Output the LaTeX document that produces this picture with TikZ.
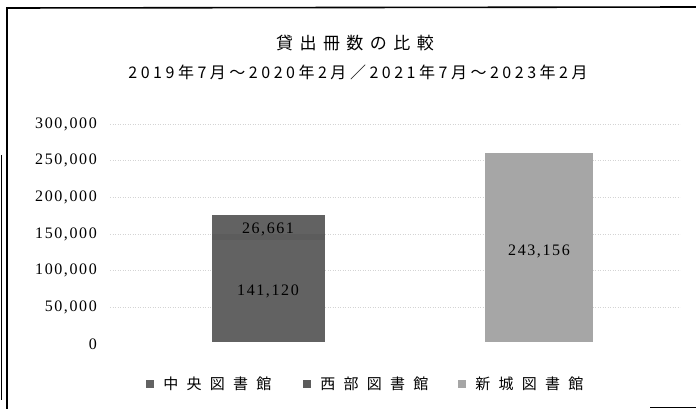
\documentclass[tikz,border=0pt]{standalone}
\usepackage{fontspec}
\usetikzlibrary{positioning}
\setmainfont{Liberation Serif}
\newfontfamily\numfont[LetterSpace=10]{Liberation Serif}
\newfontfamily\titlefont[LetterSpace=38]{Noto Sans CJK JP}
\newfontfamily\subfont[LetterSpace=22]{Noto Sans CJK JP}
\newfontfamily\keyfont[LetterSpace=55]{Noto Sans CJK JP}
\definecolor{barone}{HTML}{626262}
\definecolor{bartwo}{HTML}{5C5C5C}
\definecolor{barthree}{HTML}{A6A6A6}
\definecolor{gridgray}{HTML}{D4D4D4}

\begin{document}
\begin{tikzpicture}[x=1pt,y=1pt,yscale=-1,xscale=1,
  ticklabel/.style={anchor=east,inner sep=0pt,font=\numfont\fontsize{16}{16}\selectfont},
  datalabel/.style={inner sep=0pt,font=\numfont\fontsize{16}{16}\selectfont},
  legendkey/.style={minimum size=8pt,inner sep=0pt},
  legendtext/.style={inner sep=0pt,font=\keyfont\fontsize{15}{15}\selectfont}]

\useasboundingbox (0,0) rectangle (696,409);

% frame of the scanned page
\draw [line width=1.6pt] (7,409) -- (7,8) -- (696,7);
\draw [line width=0.8pt] (1.5,155) -- (1.5,400);
\draw [line width=1pt] (650,407.5) -- (696,407.5);

\node [inner sep=0pt,font=\titlefont\fontsize{17}{17}\selectfont] (title) at (355,43) {貸出冊数の比較};
\node [inner sep=0pt,font=\subfont\fontsize{16}{16}\selectfont] (subtitle) at (358,72) {2019年7月～2020年2月／2021年7月～2023年2月};

%\draw [color=red] (110,344) -- (680,344);

\draw [gridgray, dotted, line width=0.5pt] (110,124) -- (680,124);
\draw [gridgray, dotted, line width=0.5pt] (110,160.7) -- (680,160.7);
\draw [gridgray, dotted, line width=0.5pt] (110,197.3) -- (680,197.3);
\draw [gridgray, dotted, line width=0.5pt] (110,234) -- (680,234);
\draw [gridgray, dotted, line width=0.5pt] (110,270.7) -- (680,270.7);
\draw [gridgray, dotted, line width=0.5pt] (110,307.3) -- (680,307.3);

\node [ticklabel] (t300) at (97,124) {300,000};
\node [ticklabel] (t250) at (97,160.7) {250,000};
\node [ticklabel] (t200) at (97,197.3) {200,000};
\node [ticklabel] (t150) at (97,234) {150,000};
\node [ticklabel] (t100) at (97,270.7) {100,000};
\node [ticklabel] (t50) at (97,307.3) {50,000};
\node [ticklabel] (t0) at (97,344) {0};

\fill [barone] (212,342) rectangle (325,240);
\fill [bartwo] (212,240) rectangle (325,234);
\fill [barone] (212,234) rectangle (325,215);
\fill [barthree] (485,342) rectangle (593,153);

\node [datalabel] (v26661) at (268,229) {26,661};
\node [datalabel] (v141120) at (268,291) {141,120};
\node [datalabel] (v243156) at (539,251) {243,156};

\node [legendkey, fill=barone] (key1) at (150,384) {};
\node [legendtext, right=9pt of key1] (lib1) {中央図書館};
\node [legendkey, fill=bartwo] (key2) at (307,384) {};
\node [legendtext, right=9pt of key2] (lib2) {西部図書館};
\node [legendkey, fill=barthree] (key3) at (462,384) {};
\node [legendtext, right=9pt of key3] (lib3) {新城図書館};

\end{tikzpicture}
\end{document}
